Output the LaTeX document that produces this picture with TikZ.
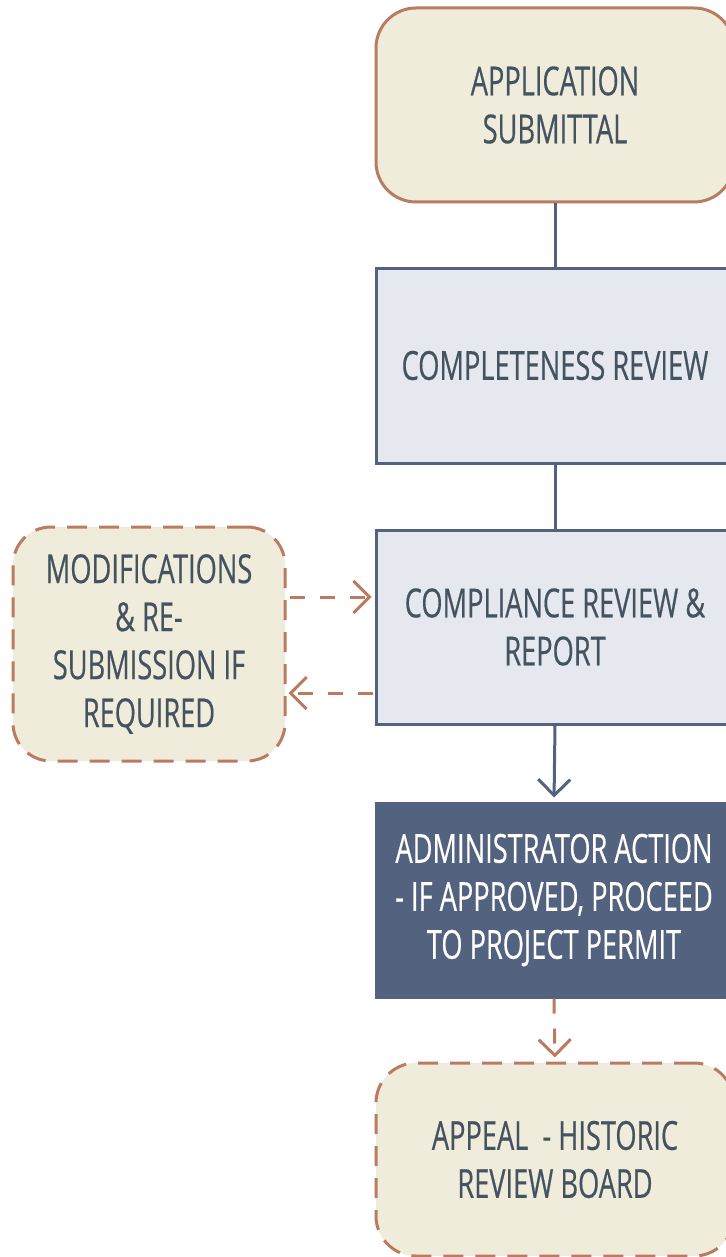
\documentclass[tikz,border=0pt]{standalone}
\usepackage{fontspec}
\setmainfont{Open Sans}[FakeStretch=0.68, FakeBold=0.4]
\usetikzlibrary{arrows.meta}
\definecolor{tanfill}{HTML}{F0ECDC}
\definecolor{brownline}{HTML}{BA7C60}
\definecolor{bluefill}{HTML}{E5E8EE}
\definecolor{navy}{HTML}{53627F}
\definecolor{txt}{HTML}{44535F}
\tikzset{
  lbl/.style={font=\fontsize{40}{48}\selectfont, text=txt, align=center, inner sep=0pt},
  tanbox/.style={lbl, draw=brownline, fill=tanfill, line width=3pt, rounded corners=40pt},
  dashbox/.style={tanbox, dash pattern=on 20pt off 12pt},
  bluebox/.style={lbl, draw=navy, fill=bluefill, line width=3pt},
  darkbox/.style={lbl, draw=navy, fill=navy, text=white, line width=1pt},
  navyline/.style={draw=navy, line width=3pt},
  tip/.style={-{Straight Barb[length=16pt,width=32pt,line width=3pt]}},
  brownarrow/.style={draw=brownline, line width=3pt, dash pattern=on 15pt off 15pt, tip},
}
\begin{document}
\begin{tikzpicture}[x=1pt,y=-1pt]
\useasboundingbox (0,0) rectangle (725,1257);
\fill[white] (0,0) rectangle (725,1257);
\node[tanbox, minimum width=358pt, minimum height=194pt] (app) at (555,105) {APPLICATION\\SUBMITTAL};
\node[bluebox, minimum width=358pt, minimum height=195pt] (comp) at (555,365.5) {COMPLETENESS REVIEW};
\node[bluebox, minimum width=358pt, minimum height=194pt] (compl) at (555,627) {COMPLIANCE REVIEW \&\\REPORT};
\node[darkbox, minimum width=358pt, minimum height=196pt] (admin) at (554,900) {ADMINISTRATOR ACTION\\- IF APPROVED, PROCEED\\TO PROJECT PERMIT};
\node[dashbox, minimum width=358pt, minimum height=193pt] (appeal) at (555,1159.5) {APPEAL \ - HISTORIC\\REVIEW BOARD};
\node[dashbox, rounded corners=38pt, minimum width=272pt, minimum height=234pt] (mod) at (149,644) {MODIFICATIONS\\\& RE-\\SUBMISSION IF\\REQUIRED};
\draw[navyline] (app.south) -- (comp.north);
\draw[navyline] (comp.south) -- (compl.north);
\draw[navyline, tip, shorten >=4pt] (compl.south) -- (admin.north);
\draw[brownarrow, shorten >=4pt] (admin.south) -- (appeal.north);
\draw[brownarrow, shorten <=3pt, shorten >=3pt] (mod.east |- 0,597) -- (compl.west |- 0,597);
\draw[brownarrow, shorten <=2pt, shorten >=2pt] (compl.west |- 0,693) -- (mod.east |- 0,693);
\end{tikzpicture}
\end{document}
